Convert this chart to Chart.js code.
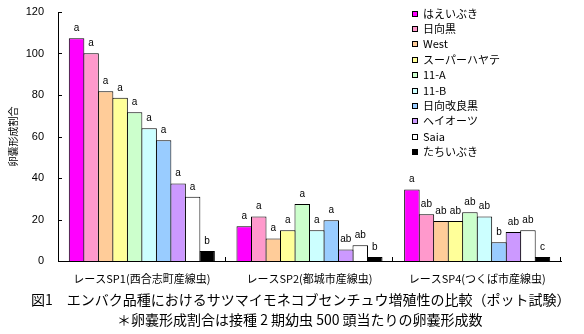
<!DOCTYPE html>
<html lang="ja">
<head>
<meta charset="utf-8">
<title>エンバク品種におけるサツマイモネコブセンチュウ増殖性の比較</title>
<script src="https://cdn.jsdelivr.net/npm/chart.js@4/dist/chart.umd.min.js"></script>
<style>
    html, body { margin: 0; padding: 0; background: #fff; }
    #wrap { position: relative; width: 584px; height: 334px; overflow: hidden; }
    #chartBox { position: absolute; left: 0; top: 0; width: 584px; height: 290px; }
    .caption {
        position: absolute;
        white-space: nowrap;
        font-family: "Noto Sans CJK JP", sans-serif;
        font-size: 14px;
        line-height: 16px;
        color: #000;
    }
</style>
</head>
<body>
<div id="wrap">
    <div id="chartBox"><canvas id="nematodeChart"></canvas></div>
    <div class="caption" id="cap1" style="left:31px; top:291px;">図1　エンバク品種におけるサツマイモネコブセンチュウ増殖性の比較（ポット試験）</div>
    <div class="caption" id="cap2" style="left:117px; top:311px;">＊卵嚢形成割合は接種 2 期幼虫 500 頭当たりの卵嚢形成数</div>
</div>
<script>
// レース（横軸の区分）
const races = ['レースSP1(西合志町産線虫)', 'レースSP2(都城市産線虫)', 'レースSP4(つくば市産線虫)'];

// 品種
const varieties = ['はえいぶき', '日向黒', 'West', 'スーパーハヤテ', '11-A', '11-B', '日向改良黒', 'ヘイオーツ', 'Saia', 'たちいぶき'];
const varietyColors = ['#ff00ff', '#ff99cc', '#ffcc99', '#ffff99', '#ccffcc', '#ccffff', '#99ccff', '#cc99ff', '#ffffff', '#000000'];

// 卵嚢形成割合（品種順）
const sp1Values = [107.3, 100.1, 81.8, 78.7, 71.7, 64.0, 58.2, 37.4, 31.0, 4.8];
const sp2Values = [16.7, 21.5, 10.9, 14.8, 27.5, 14.8, 19.6, 5.6, 7.6, 1.9];
const sp4Values = [34.5, 22.5, 19.3, 19.3, 23.5, 21.5, 9.0, 14.0, 14.8, 1.9];

// 有意差の記号
const sp1Letters = ['a', 'a', 'a', 'a', 'a', 'a', 'a', 'a', 'a', 'b'];
const sp2Letters = ['a', 'a', 'a', 'a', 'a', 'a', 'a', 'ab', 'ab', 'b'];
const sp4Letters = ['a', 'ab', 'ab', 'ab', 'ab', 'ab', 'b', 'ab', 'ab', 'c'];

// 縦軸
const yMin = 0;
const yMax = 120;
const yStep = 20;
const yTitle = '卵嚢形成割合';

const letterRows = [sp1Letters, sp2Letters, sp4Letters];

// 棒の上の記号
const letterPlugin = {
    id: 'letters',
    afterDatasetsDraw: function(chart) {
        const ctx = chart.ctx;
        ctx.save();
        ctx.font = '10px "Liberation Sans", Arial, sans-serif';
        ctx.fillStyle = '#000';
        ctx.textAlign = 'center';
        ctx.textBaseline = 'alphabetic';
        chart.data.datasets.forEach(function(ds, d) {
            const meta = chart.getDatasetMeta(d);
            meta.data.forEach(function(bar, i) {
                ctx.fillText(letterRows[i][d], bar.x, bar.y - 7);
            });
        });
        ctx.restore();
    }
};

// 内向きの目盛り
const innerTickPlugin = {
    id: 'innerTicks',
    afterDraw: function(chart) {
        const ctx = chart.ctx;
        const x = chart.scales.x;
        const y = chart.scales.y;
        ctx.save();
        ctx.strokeStyle = '#000';
        ctx.lineWidth = 1;
        ctx.beginPath();
        y.ticks.forEach(function(t) {
            const py = Math.round(y.getPixelForValue(t.value)) + 0.5;
            ctx.moveTo(x.left, py);
            ctx.lineTo(x.left + 4, py);
        });
        const step = (x.right - x.left) / races.length;
        for (let i = 1; i <= races.length; i++) {
            const px = Math.round(x.left + step * i) - 0.5;
            ctx.moveTo(px, y.bottom);
            ctx.lineTo(px, y.bottom - 4);
        }
        ctx.stroke();
        ctx.restore();
    }
};

// 凡例（グラフ内右上）
const legendPlugin = {
    id: 'innerLegend',
    afterDraw: function(chart) {
        const ctx = chart.ctx;
        ctx.save();
        ctx.font = '11px "Noto Sans CJK JP", sans-serif';
        ctx.textBaseline = 'middle';
        ctx.textAlign = 'left';
        chart.data.datasets.forEach(function(ds, i) {
            const cy = 13.5 + i * 15.4;
            ctx.fillStyle = ds.backgroundColor;
            ctx.fillRect(412, Math.round(cy) - 3, 6, 6);
            ctx.strokeStyle = '#000';
            ctx.lineWidth = 1;
            ctx.strokeRect(412.5, Math.round(cy) - 2.5, 5, 5);
            ctx.fillStyle = '#000';
            ctx.fillText(ds.label, 423, cy);
        });
        ctx.restore();
    }
};

const datasets = varieties.map(function(name, i) {
    return {
        label: name,
        data: [sp1Values[i], sp2Values[i], sp4Values[i]],
        backgroundColor: varietyColors[i],
        borderColor: '#000',
        borderWidth: 1,
        borderSkipped: 'bottom',
        categoryPercentage: 0.865,
        barPercentage: 1.07
    };
});

new Chart(document.getElementById('nematodeChart'), {
    type: 'bar',
    data: {
        labels: races,
        datasets: datasets
    },
    options: {
        responsive: true,
        maintainAspectRatio: false,
        animation: false,
        layout: {
            padding: { left: 7, right: 23, top: 12, bottom: 0 }
        },
        plugins: {
            legend: { display: false },
            tooltip: { enabled: false },
            title: { display: false }
        },
        scales: {
            x: {
                grid: { display: false, drawTicks: false },
                border: { display: true, color: '#000', width: 1 },
                ticks: {
                    color: '#000',
                    padding: 11,
                    maxRotation: 0,
                    font: { family: '"Noto Sans CJK JP", sans-serif', size: 11 }
                },
                afterFit: function(scale) {
                    scale.height = 29;
                    scale.paddingLeft = 0;
                    scale.paddingRight = 0;
                }
            },
            y: {
                min: yMin,
                max: yMax,
                grid: { display: false, drawTicks: false },
                border: { display: true, color: '#000', width: 1 },
                ticks: {
                    stepSize: yStep,
                    color: '#000',
                    padding: 14,
                    font: { family: '"Liberation Sans", Arial, sans-serif', size: 11 }
                },
                title: {
                    display: true,
                    text: yTitle,
                    color: '#000',
                    padding: { top: 0, bottom: 0 },
                    font: { family: '"Noto Sans CJK JP", sans-serif', size: 10 }
                },
                afterFit: function(scale) {
                    scale.width = 51;
                    scale.paddingTop = 0;
                    scale.paddingBottom = 0;
                }
            }
        }
    },
    plugins: [letterPlugin, innerTickPlugin, legendPlugin]
});
</script>
</body>
</html>
